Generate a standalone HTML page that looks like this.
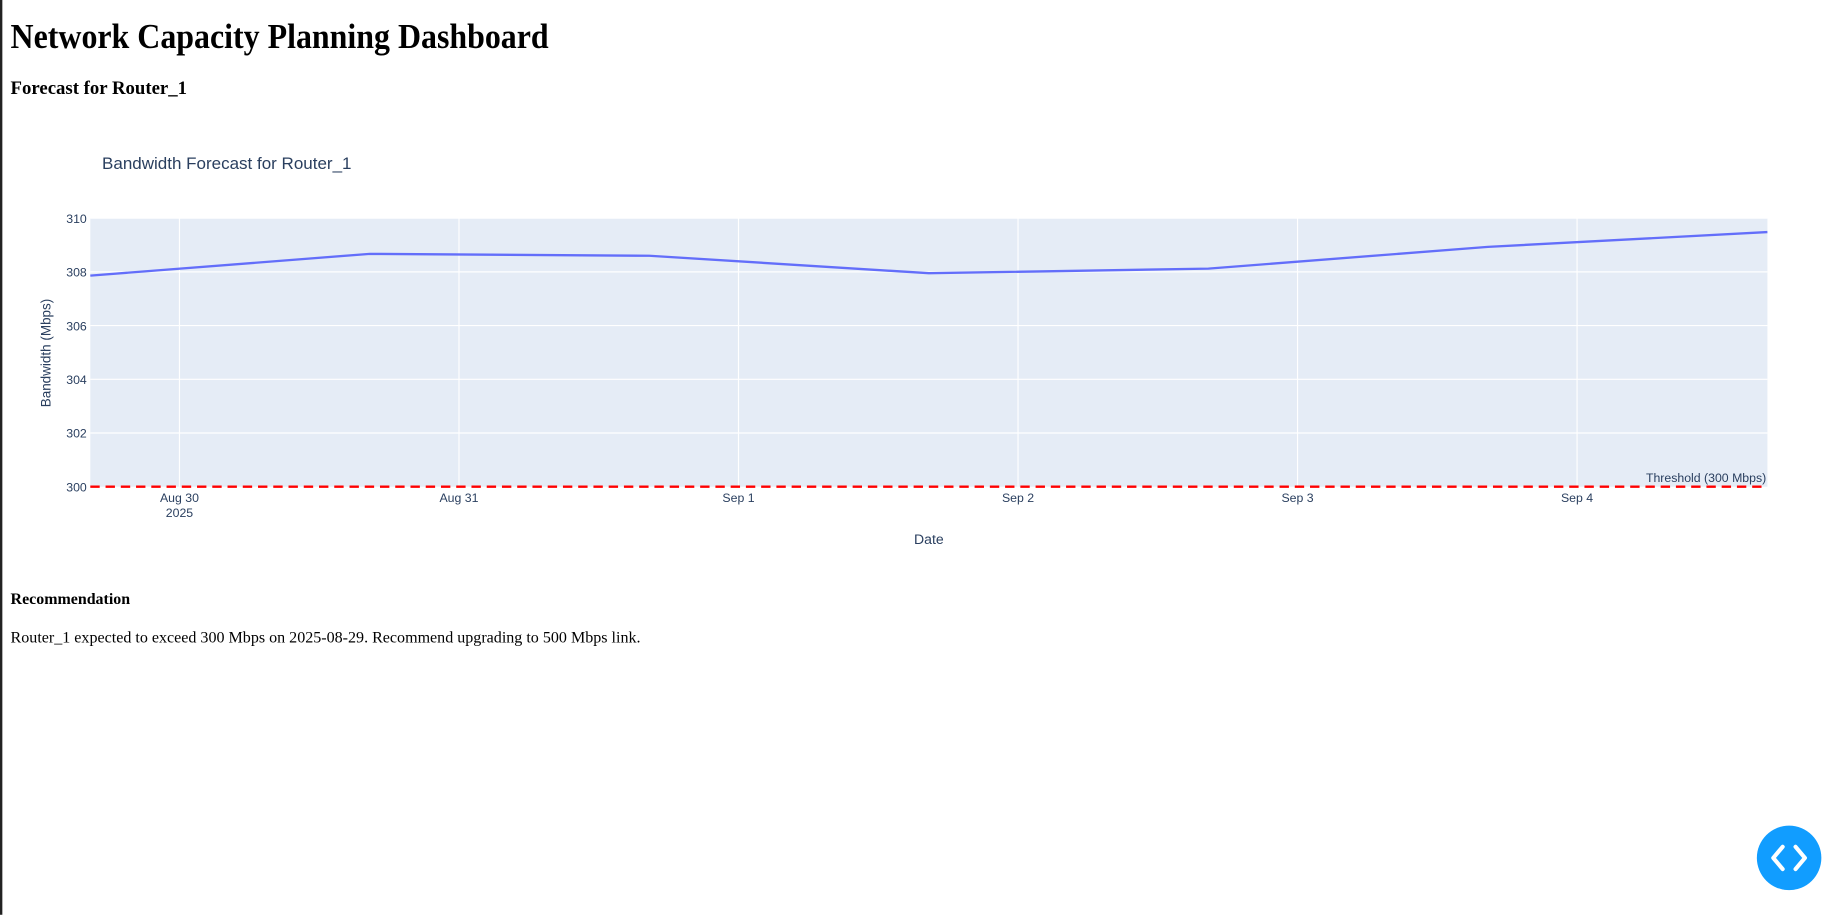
<!DOCTYPE html>
<html><head><meta charset="utf-8"><style>
html,body{margin:0;padding:0;background:#fff;overflow:hidden}
#root{position:absolute;left:0;top:0;width:1568px;height:780px;transform:scale(1.1728);transform-origin:0 0;font-family:"Liberation Serif",serif;color:#000}
.abs{position:absolute;white-space:nowrap}
</style></head><body>
<div id="root">
<div class="abs" style="left:0;top:0;width:2px;height:780px;background:#222"></div>
<div class="abs" style="left:9px;top:12px;font-size:30px;font-weight:bold;line-height:40px;transform:scaleX(0.907);transform-origin:0 0">Network Capacity Planning Dashboard</div>
<div class="abs" style="left:9px;top:66px;font-size:16px;font-weight:bold;line-height:20px">Forecast for Router_1</div>
<svg class="abs" style="left:0;top:0" width="1568" height="780" font-family="Liberation Sans, sans-serif">
<text x="87" y="144" font-size="14.5" fill="#2a3f5f">Bandwidth Forecast for Router_1</text>
<rect x="77" y="186" width="1430" height="229" fill="#e5ecf6"/>
<g id="grid"></g><g id="ticks" font-size="10.5" fill="#2a3f5f"></g>
<polyline id="line" fill="none" stroke="#636efa" stroke-width="2"/>
<line id="thr" x1="77" x2="1507" stroke="#ff0000" stroke-width="2" stroke-dasharray="8,5"/>
<text id="thrLabel" x="1506" text-anchor="end" font-size="10.5" fill="#2a3f5f">Threshold (300 Mbps)</text>
<text x="792" y="464" text-anchor="middle" font-size="12" fill="#2a3f5f">Date</text>
<text transform="translate(43,301) rotate(-90)" text-anchor="middle" font-size="11.5" fill="#2a3f5f">Bandwidth (Mbps)</text>
</svg>
<div class="abs" style="left:9px;top:502px;font-size:13.6px;font-weight:bold;line-height:18px">Recommendation</div>
<div class="abs" style="left:9px;top:535px;font-size:13.7px;line-height:18px">Router_1 expected to exceed 300 Mbps on 2025-08-29. Recommend upgrading to 500 Mbps link.</div>
<div class="abs" style="left:1498px;top:704px;width:55px;height:55px;border-radius:50%;background:#119dff">
<svg width="55" height="55"><path d="M22 18 L14 27.5 L22 37 M33 18 L41 27.5 L33 37" stroke="#fff" stroke-width="3.5" fill="none" stroke-linecap="round" stroke-linejoin="round"/></svg></div>
</div>
<script>
// day offsets relative to Aug 30 2025 00:00
const dayOffsets = [-0.319, 0.681, 1.681, 2.681, 3.681, 4.681, 5.681];
const bandwidth = [307.86, 308.67, 308.60, 307.95, 308.12, 308.93, 309.48];
const yTicks = [300, 302, 304, 306, 308, 310];
const xTickDays = [0, 1, 2, 3, 4, 5];
const xTickLabels = ["Aug 30", "Aug 31", "Sep 1", "Sep 2", "Sep 3", "Sep 4"];
const threshold = 300;

const L=77,R=1507,T=186,B=415;
const x0=dayOffsets[0], x1=dayOffsets[dayOffsets.length-1];
const xs=d=>L+(d-x0)/(x1-x0)*(R-L);
const ys=v=>B-(v-300)/(310-300)*(B-T);
const NS="http://www.w3.org/2000/svg";
const grid=document.getElementById('grid'), ticks=document.getElementById('ticks');
yTicks.forEach(v=>{
  if(v!==300){const l=document.createElementNS(NS,'line');
  l.setAttribute('x1',L);l.setAttribute('x2',R);l.setAttribute('y1',ys(v));l.setAttribute('y2',ys(v));
  l.setAttribute('stroke','#fff');l.setAttribute('stroke-width','1');
  
  
  grid.appendChild(l);}
  const t=document.createElementNS(NS,'text');
  t.setAttribute('x',L-3);t.setAttribute('y',ys(v)+4);t.setAttribute('text-anchor','end');t.textContent=v;
  
  
  ticks.appendChild(t);
});
xTickDays.forEach((d,i)=>{
  const x=xs(d);
  const l=document.createElementNS(NS,'line');
  l.setAttribute('x1',x);l.setAttribute('x2',x);l.setAttribute('y1',T);l.setAttribute('y2',B);
  l.setAttribute('stroke','#fff');l.setAttribute('stroke-width','1');
  
  
  grid.appendChild(l);
  const t=document.createElementNS(NS,'text');
  t.setAttribute('x',x);t.setAttribute('y',B+13);t.setAttribute('text-anchor','middle');t.textContent=xTickLabels[i];
  
  
  ticks.appendChild(t);
  if(i===0){const y=document.createElementNS(NS,'text');
  y.setAttribute('x',x);y.setAttribute('y',B+26);y.setAttribute('text-anchor','middle');y.textContent='2025';
  
  
  ticks.appendChild(y);}
});
document.getElementById('line').setAttribute('points',dayOffsets.map((d,i)=>xs(d)+','+ys(bandwidth[i])).join(' '));
const th=document.getElementById('thr');th.setAttribute('y1',ys(threshold));th.setAttribute('y2',ys(threshold));
document.getElementById('thrLabel').setAttribute('y',ys(threshold)-4);
</script>
</body></html>
